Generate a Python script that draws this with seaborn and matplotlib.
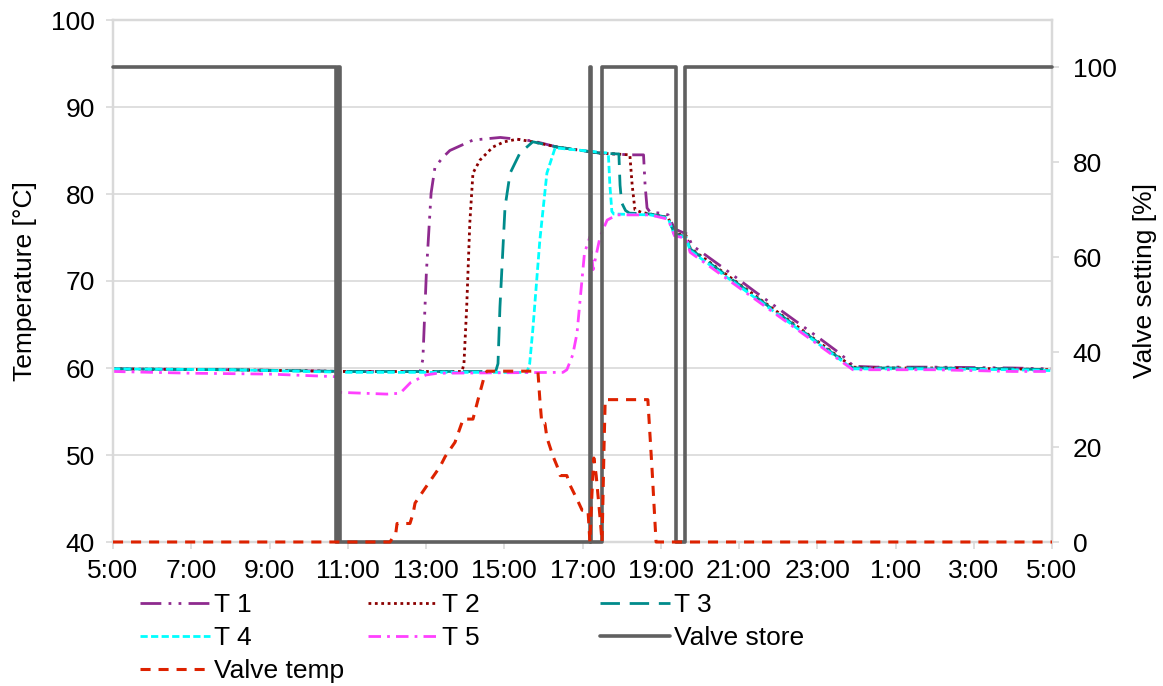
import matplotlib
matplotlib.use("Agg")
import matplotlib.pyplot as plt
import pandas as pd
import seaborn as sns

# ---------------- data (time in hours; values > 24 are the next day) ----------------
t1_time = [5.0, 8.0, 11.0, 12.85, 12.92, 13.01, 13.13, 13.23, 13.45, 13.61, 14.2, 14.9, 15.73, 16.35,
           17.45, 18.2, 18.56, 18.6, 18.65, 18.73, 19.0, 19.19, 19.35, 19.55, 19.68, 19.8, 20.6, 21.4,
           22.2, 23.0, 23.6, 23.93, 24.5, 26.0, 28.0, 29.0]
t1_vals = [59.9, 59.8, 59.6, 59.6, 61.0, 71.0, 80.1, 83.1, 84.3, 85.0, 86.2, 86.5, 86.1, 85.4,
           84.7, 84.5, 84.5, 81.0, 78.4, 77.9, 77.8, 77.6, 76.0, 75.6, 75.4, 74.1, 71.5, 68.8,
           66.2, 63.6, 61.6, 60.2, 60.1, 60.1, 60.0, 59.9]

t2_time = [5.0, 8.0, 11.0, 13.92, 13.97, 14.04, 14.12, 14.2, 14.38, 14.71, 15.0, 15.33, 15.73, 16.35,
           17.45, 18.21, 18.27, 18.34, 18.5, 18.73, 19.19, 19.35, 19.65, 19.75, 23.91, 24.5, 26.0,
           28.0, 29.0]
t2_vals = [59.9, 59.8, 59.6, 59.6, 60.5, 67.0, 76.7, 82.4, 83.9, 85.4, 86.0, 86.3, 86.0, 85.4,
           84.7, 84.5, 81.0, 78.2, 77.9, 77.7, 77.3, 75.5, 75.2, 73.8, 60.1, 60.0, 60.0,
           59.9, 59.8]

t3_time = [5.0, 8.0, 11.0, 14.78, 14.84, 14.89, 15.02, 15.15, 15.4, 15.73, 16.35, 17.45, 17.93,
           17.96, 18.0, 18.1, 18.2, 18.73, 19.19, 19.35, 19.65, 19.75, 23.91, 24.5, 26.0, 28.0, 29.0]
t3_vals = [59.9, 59.8, 59.6, 59.6, 60.5, 67.0, 78.5, 82.4, 84.7, 86.0, 85.4, 84.7, 84.6,
           81.0, 79.0, 78.1, 77.8, 77.7, 77.3, 75.4, 75.1, 73.7, 60.0, 60.0, 60.0, 59.9, 59.8]

t4_time = [5.0, 8.0, 11.0, 15.58, 15.65, 15.73, 15.91, 16.09, 16.3, 17.0, 17.66, 17.7, 17.75, 17.8,
           18.73, 19.19, 19.35, 19.65, 19.75, 23.91, 24.5, 26.0, 28.0, 29.0]
t4_vals = [59.9, 59.8, 59.5, 59.5, 60.5, 64.4, 74.7, 82.4, 85.3, 85.0, 84.7, 81.0, 78.0, 77.7,
           77.6, 77.2, 75.3, 75.0, 73.5, 59.9, 59.9, 59.9, 59.8, 59.7]

t5_time = [5.0, 7.0, 9.0, 10.7, 10.8, 12.0, 12.34, 12.6, 13.0, 13.3, 16.5, 16.6, 16.75, 16.86,
           17.05, 17.19, 17.27, 17.45, 17.63, 17.88, 18.73, 19.19, 19.35, 19.65, 19.75, 23.91,
           24.5, 26.0, 28.0, 29.0]
t5_vals = [59.6, 59.4, 59.3, 59.0, 57.2, 57.0, 57.1, 58.3, 59.2, 59.4, 59.5, 59.8, 61.5, 64.0,
           73.2, 75.1, 71.3, 75.1, 77.0, 77.6, 77.6, 77.1, 75.2, 74.9, 73.3, 59.8,
           59.8, 59.8, 59.6, 59.6]

store_time = [5.0, 10.70, 10.70, 10.75, 10.75, 10.80, 10.80, 17.18, 17.18, 17.21, 17.21, 17.50,
              17.50, 17.53, 17.53, 19.39, 19.39, 19.61, 19.61, 29.0]
store_vals = [100, 100, 0, 0, 100, 100, 0, 0, 100, 100, 0, 0,
              100, 100, 100, 100, 0, 0, 100, 100]

vtemp_time = [5.0, 12.08, 12.23, 12.26, 12.59, 12.67, 12.72, 13.0, 13.36, 13.49, 13.74, 13.95,
              14.2, 14.33, 14.51, 14.56, 15.86, 15.91, 15.96, 16.04, 16.09, 16.25, 16.35, 16.43,
              16.6, 16.68, 16.86, 16.99, 17.14, 17.19, 17.24, 17.29, 17.35, 17.45, 17.5, 17.55,
              17.58, 18.67, 18.78, 18.88, 29.0]
vtemp_vals = [0, 0, 2, 3.9, 3.9, 6, 8.2, 11.6, 15.9, 18, 21, 25.9,
              25.9, 30, 35.5, 36, 36, 30, 25, 25, 22, 18, 16, 14,
              14, 12, 9, 6.7, 6.7, 0, 10, 17.7, 14, 5, 0, 20,
              30, 30, 15, 0, 0]

x_ticks = [5, 7, 9, 11, 13, 15, 17, 19, 21, 23, 25, 27, 29]
x_tick_labels = ["5:00", "7:00", "9:00", "11:00", "13:00", "15:00", "17:00", "19:00",
                 "21:00", "23:00", "1:00", "3:00", "5:00"]
temp_ticks = [40, 50, 60, 70, 80, 90, 100]
valve_ticks = [0, 20, 40, 60, 80, 100]

# ---------------- styling ----------------
sns.set_theme(style="white")
plt.rcParams['font.family'] = ['Liberation Sans', 'DejaVu Sans']
plt.rcParams['text.color'] = 'black'
plt.rcParams['axes.labelcolor'] = 'black'
FS = 19
GRID = "#d9d9d9"

fig = plt.figure(figsize=(11.63, 6.86), dpi=100)
ax = fig.add_axes([113 / 1163, 1 - 542 / 686, (1052 - 113) / 1163, (542 - 20) / 686])
ax2 = ax.twinx()

series = [
    ("T 1", t1_time, t1_vals, "#8e2a8e", (0, (7.5, 2.6, 1, 2.6, 1, 2.6)), 2.0),
    ("T 2", t2_time, t2_vals, "#8b0000", (0, (1, 1.3)), 2.0),
    ("T 3", t3_time, t3_vals, "#008b8b", (0, (7, 3.5)), 2.0),
    ("T 4", t4_time, t4_vals, "#00ffff", (0, (2.6, 1.2)), 2.0),
    ("T 5", t5_time, t5_vals, "#ff40ff", (0, (4.5, 2.2, 1, 2.2)), 2.0),
]
handles = {}
for name, tt, vv, col, ls, lw in series:
    df = pd.DataFrame({"time": tt, "value": vv})
    sns.lineplot(data=df, x="time", y="value", ax=ax, color=col, linestyle=ls,
                 linewidth=lw, estimator=None, sort=False, legend=False, label=name)
    handles[name] = ax.get_lines()[-1]

df_store = pd.DataFrame({"time": store_time, "value": store_vals})
sns.lineplot(data=df_store, x="time", y="value", ax=ax2, color="#606060", linestyle="-",
             linewidth=2.6, estimator=None, sort=False, legend=False, label="Valve store",
             clip_on=False, zorder=3)
handles["Valve store"] = ax2.get_lines()[-1]

df_vt = pd.DataFrame({"time": vtemp_time, "value": vtemp_vals})
sns.lineplot(data=df_vt, x="time", y="value", ax=ax2, color="#dd2200", linestyle=(0, (3.3, 2.6)),
             linewidth=2.2, estimator=None, sort=False, legend=False, label="Valve temp",
             clip_on=False, zorder=4)
handles["Valve temp"] = ax2.get_lines()[-1]

# axes
ax.set_xlim(5, 29)
ax.set_ylim(40, 100)
ax2.set_ylim(0, 110)
ax.set_xticks(x_ticks)
ax.set_xticklabels(x_tick_labels)
ax.set_yticks(temp_ticks)
ax2.set_yticks(valve_ticks)
ax.yaxis.grid(True, color=GRID, linewidth=1.2)
ax.xaxis.grid(False)
ax.set_axisbelow(True)
for a in (ax, ax2):
    for s in a.spines.values():
        s.set_color(GRID)
        s.set_linewidth(1.6)
    a.tick_params(colors=GRID, labelcolor="black", labelsize=FS, length=5, width=1.2)
ax.tick_params(axis="x", direction="out", bottom=True, pad=7)
ax.tick_params(axis="y", direction="out", left=True, pad=8)
ax2.tick_params(axis="y", direction="out", right=True, pad=10)

ax.set_xlabel("")
ax.set_ylabel("Temperature [°C]", fontsize=FS, labelpad=10, color="black")
ax2.set_ylabel("Valve setting [%]", fontsize=FS, labelpad=12, color="black")

# legend: three columns below the plot
leg_kw = dict(loc="upper left", frameon=False, fontsize=FS, handlelength=2.65,
              handletextpad=0.15, borderpad=0, borderaxespad=0, labelspacing=0.34,
              labelcolor="black")
cols = [(["T 1", "T 4", "Valve temp"], 140), (["T 2", "T 5"], 368), (["T 3", "Valve store"], 600)]
for names, xpx in cols:
    fig.legend(handles=[handles[n] for n in names], labels=names,
               bbox_to_anchor=(xpx / 1163, 1 - 593 / 686), **leg_kw)

fig.savefig("out.png", dpi=100)
